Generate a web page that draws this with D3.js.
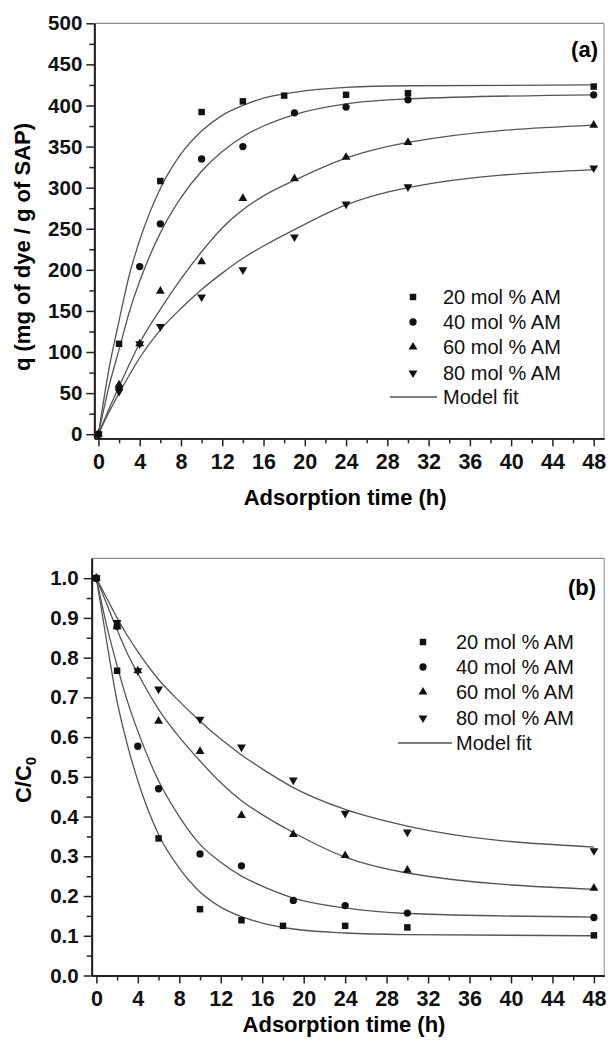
<!DOCTYPE html>
<html>
<head>
<meta charset="utf-8">
<script src="https://cdn.jsdelivr.net/npm/d3@7"></script>
<style>
  body { margin: 0; background: #fff; }
  svg { display: block; font-family: "Liberation Sans", Arial, sans-serif; }
</style>
</head>
<body>
<div id="chart"></div>
<script>
// measured times (h) shared by all series; null = no point visible
var timeH = [0, 2, 4, 6, 10, 14, 18, 19, 24, 30, 48];

// (a) adsorption capacity q, mg dye / g SAP
var q20 = [0, 110, null, 308, 392, 405, 412, null, 413, 415, 423];
var q40 = [0, 57, 204, 256, 335, 350, null, 391, 398, 407, 413];
var q60 = [0, 60, 110, 174, 210, 287, null, 311, 337, 355, 376];
var q80 = [0, 52, 110, 131, 167, 200, null, 240, 280, 301, 324];

// (b) relative concentration C/C0
var c20 = [1, 0.767, null, 0.345, 0.167, 0.139, 0.125, null, 0.125, 0.121, 0.101];
var c40 = [1, 0.879, 0.577, 0.470, 0.306, 0.276, null, 0.189, 0.176, 0.157, 0.146];
var c60 = [1, 0.878, 0.767, 0.640, 0.564, 0.403, null, 0.355, 0.302, 0.265, 0.220];
var c80 = [1, 0.888, 0.767, 0.721, 0.645, 0.575, null, 0.492, 0.408, 0.361, 0.314];

// model fit curves
var fitT = [0, 1, 2, 3, 4, 6, 8, 10, 12, 14, 16, 19, 24, 30, 48];
var qFit20 = [0, 78, 138, 194, 236, 299, 341, 369, 388, 400, 409, 416, 422, 424, 425];
var qFit40 = [0, 57, 103, 149, 186, 245, 288, 320, 344, 362, 375, 389, 402, 408, 413];
var qFit60 = [0, 30, 58, 85, 111, 152, 189, 222, 251, 273, 290, 309, 336, 355, 376];
var qFit80 = [0, 26, 50, 72, 93, 127, 153, 176, 196, 214, 229, 249, 279, 300, 322];
var cFit20 = [1, 0.84, 0.69, 0.58, 0.49, 0.355, 0.27, 0.21, 0.172, 0.148, 0.132, 0.117, 0.107, 0.103, 0.100];
var cFit40 = [1, 0.88, 0.78, 0.69, 0.615, 0.49, 0.40, 0.33, 0.285, 0.25, 0.225, 0.195, 0.17, 0.156, 0.147];
var cFit60 = [1, 0.935, 0.87, 0.81, 0.76, 0.67, 0.60, 0.54, 0.485, 0.44, 0.405, 0.36, 0.298, 0.258, 0.217];
var cFit80 = [1, 0.95, 0.90, 0.855, 0.815, 0.745, 0.69, 0.64, 0.595, 0.555, 0.52, 0.473, 0.418, 0.376, 0.323];

var seriesNames = ["20 mol % AM", "40 mol % AM", "60 mol % AM", "80 mol % AM"];
var fitName = "Model fit";
var xTicksMajor = [0, 4, 8, 12, 16, 20, 24, 28, 32, 36, 40, 44, 48];
var xTicksMinor = [2, 6, 10, 14, 18, 22, 26, 30, 34, 38, 42, 46];
var qTicksMajor = [0, 50, 100, 150, 200, 250, 300, 350, 400, 450, 500];
var qTicksMinor = [25, 75, 125, 175, 225, 275, 325, 375, 425, 475];
var cTicksMajor = [0, 0.1, 0.2, 0.3, 0.4, 0.5, 0.6, 0.7, 0.8, 0.9, 1.0];
var cTicksMinor = [0.05, 0.15, 0.25, 0.35, 0.45, 0.55, 0.65, 0.75, 0.85, 0.95];

var W = 608, H = 1050;
var svg = d3.select("#chart").append("svg")
	.attr("width", W)
	.attr("height", H);

// square, circle, up triangle, down triangle
var symbols = [
	{type: d3.symbolSquare, size: 42, rot: 0},
	{type: d3.symbolCircle, size: 42, rot: 0},
	{type: d3.symbolTriangle, size: 34, rot: 0},
	{type: d3.symbolTriangle, size: 34, rot: 180}
];

function drawPanel(cfg) {
	var x = d3.scaleLinear().domain(cfg.xDomain).range(cfg.xRange);
	var y = d3.scaleLinear().domain(cfg.yDomain).range(cfg.yRange);
	var g = svg.append("g");

	// light frame on top and right
	g.append("line")
		.attr("x1", cfg.xRange[0]).attr("x2", cfg.xRange[1])
		.attr("y1", cfg.yRange[1]).attr("y2", cfg.yRange[1])
		.attr("stroke", "#8a8a8a").attr("stroke-width", 1.2);
	g.append("line")
		.attr("x1", cfg.xRange[1]).attr("x2", cfg.xRange[1])
		.attr("y1", cfg.yRange[1]).attr("y2", cfg.yRange[0])
		.attr("stroke", "#a0a0a0").attr("stroke-width", 1.2);

	//minor ticks first, then major with labels
	g.append("g")
		.attr("transform", "translate(0," + cfg.yRange[0] + ")")
		.call(d3.axisBottom(x).tickValues(xTicksMinor).tickSize(5).tickSizeOuter(0).tickFormat(""))
		.call(styleAxis);
	g.append("g")
		.attr("transform", "translate(0," + cfg.yRange[0] + ")")
		.call(d3.axisBottom(x).tickValues(xTicksMajor).tickSize(8).tickSizeOuter(0).tickPadding(7))
		.call(styleAxis)
		.selectAll("text").style("font-size", "21.5px");

	g.append("g")
		.attr("transform", "translate(" + cfg.xRange[0] + ",0)")
		.call(d3.axisLeft(y).tickValues(cfg.yMinor).tickSize(5).tickSizeOuter(0).tickFormat(""))
		.call(styleAxis);
	g.append("g")
		.attr("transform", "translate(" + cfg.xRange[0] + ",0)")
		.call(d3.axisLeft(y).tickValues(cfg.yMajor).tickSize(8).tickSizeOuter(0).tickPadding(cfg.yPad).tickFormat(cfg.yFormat))
		.call(styleAxis)
		.selectAll("text").style("font-size", "20.5px");

	// fit lines
	var line = d3.line()
		.x(function(d) { return x(d[0]); })
		.y(function(d) { return y(d[1]); })
		.curve(d3.curveMonotoneX);
	cfg.fits.forEach(function(f) {
		g.append("path")
			.attr("d", line(fitT.map(function(t, i) { return [t, f[i]]; })))
			.attr("fill", "none")
			.attr("stroke", "#555")
			.attr("stroke-width", 1.3);
	});

	// data points
	cfg.series.forEach(function(s, k) {
		var pts = timeH.map(function(t, i) { return [t, s[i]]; })
			.filter(function(d) { return d[1] !== null; });
		g.selectAll(".pt" + k)
			.data(pts)
			.enter().append("path")
			.attr("class", "pt" + k)
			.attr("d", d3.symbol().type(symbols[k].type).size(symbols[k].size))
			.attr("transform", function(d) {
				return "translate(" + x(d[0]) + "," + y(d[1]) + ") rotate(" + symbols[k].rot + ")";
			})
			.attr("fill", "#111");
	});

	// legend
	var lg = cfg.legend;
	seriesNames.forEach(function(name, k) {
		g.append("path")
			.attr("d", d3.symbol().type(symbols[k].type).size(symbols[k].size))
			.attr("transform", "translate(" + lg.mx + "," + lg.rows[k] + ") rotate(" + symbols[k].rot + ")")
			.attr("fill", "#111");
		g.append("text")
			.attr("x", lg.tx).attr("y", lg.rows[k]).attr("dy", "0.36em")
			.style("font-size", "20px").attr("fill", "#111")
			.text(name);
	});
	g.append("line")
		.attr("x1", lg.lx[0]).attr("x2", lg.lx[1])
		.attr("y1", lg.rows[4]).attr("y2", lg.rows[4])
		.attr("stroke", "#555").attr("stroke-width", 1.3);
	g.append("text")
		.attr("x", lg.tx).attr("y", lg.rows[4]).attr("dy", "0.36em")
		.style("font-size", "20px").attr("fill", "#111")
		.text(fitName);

	// panel tag
	g.append("text")
		.attr("x", cfg.tag.x).attr("y", cfg.tag.y)
		.attr("text-anchor", "end")
		.style("font-size", "22px").style("font-weight", "bold")
		.text(cfg.tag.text);

	// x title
	g.append("text")
		.attr("x", (cfg.xRange[0] + cfg.xRange[1]) / 2 - 4)
		.attr("y", cfg.xTitleY)
		.attr("text-anchor", "middle")
		.style("font-size", "22px").style("font-weight", "bold")
		.text("Adsorption time (h)");

	return g;
}

function styleAxis(sel) {
	sel.select(".domain").attr("stroke", "#222").attr("stroke-width", 1.8);
	sel.selectAll(".tick line").attr("stroke", "#222").attr("stroke-width", 1.5);
	sel.selectAll(".tick text")
		.attr("fill", "#111")
		.style("font-weight", "bold")
		.style("font-family", "'Liberation Sans', Arial, sans-serif");
}

var gA = drawPanel({
	xDomain: [-0.4, 49], xRange: [94.3, 604],
	yDomain: [-5, 500], yRange: [438.3, 23.3],
	yMajor: qTicksMajor, yMinor: qTicksMinor, yPad: 4,
	yFormat: d3.format("d"),
	series: [q20, q40, q60, q80],
	fits: [qFit20, qFit40, qFit60, qFit80],
	legend: {mx: 413, tx: 443, lx: [390, 437], rows: [297, 322, 347, 373, 397]},
	tag: {x: 598, y: 57, text: "(a)"},
	xTitleY: 505
});
gA.append("text")
	.attr("transform", "translate(30,247) rotate(-90)")
	.attr("text-anchor", "middle")
	.style("font-size", "22px").style("font-weight", "bold")
	.text("q (mg of dye / g of SAP)");

var gB = drawPanel({
	xDomain: [-0.45, 49], xRange: [91.7, 604.3],
	yDomain: [0, 1.05], yRange: [975.5, 558.3],
	yMajor: cTicksMajor, yMinor: cTicksMinor, yPad: 5,
	yFormat: d3.format(".1f"),
	series: [c20, c40, c60, c80],
	fits: [cFit20, cFit40, cFit60, cFit80],
	legend: {mx: 423, tx: 456, lx: [398, 452], rows: [642, 667, 692, 718, 743]},
	tag: {x: 596, y: 595, text: "(b)"},
	xTitleY: 1032
});
var yl = gB.append("text")
	.attr("transform", "translate(31,780) rotate(-90)")
	.attr("text-anchor", "middle")
	.style("font-size", "22px").style("font-weight", "bold");
yl.append("tspan").text("C/C");
yl.append("tspan").attr("dy", "0.3em").style("font-size", "15px").text("0");
</script>
</body>
</html>
